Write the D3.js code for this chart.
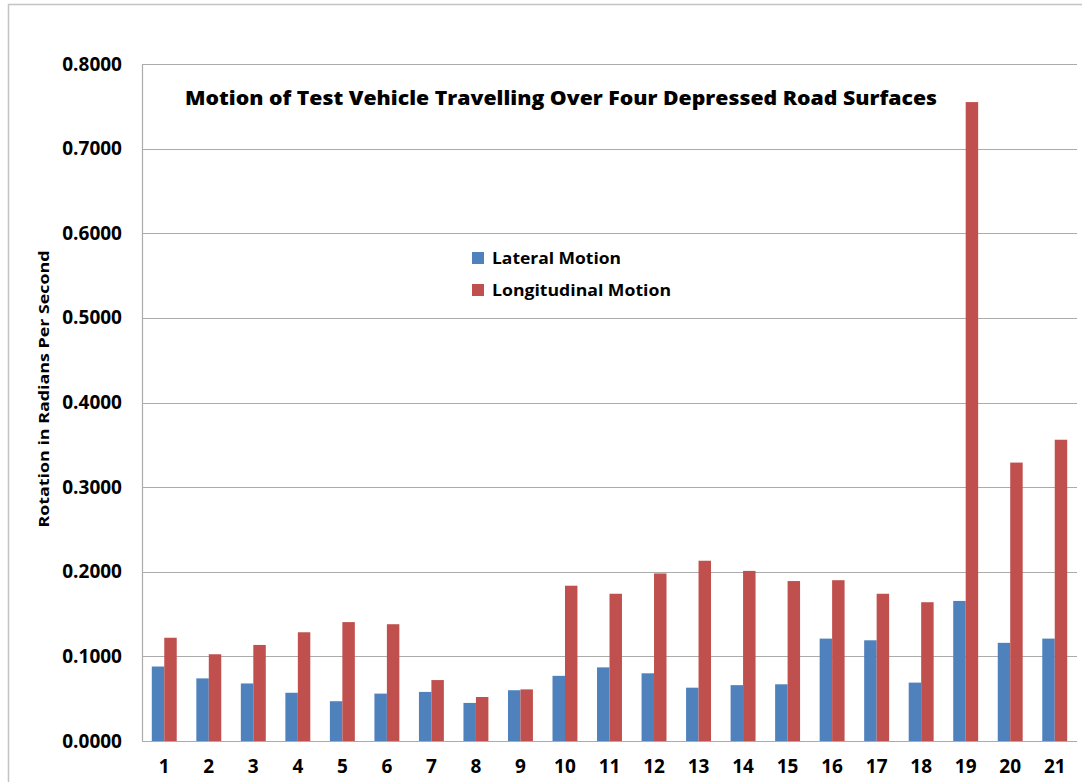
<!DOCTYPE html>
<html>
<head>
<meta charset="utf-8">
<script src="https://cdn.jsdelivr.net/npm/d3@7"></script>
<style>
  html, body { margin: 0; padding: 0; background: #fff; }
  svg { display: block; }
</style>
</head>
<body>
<svg id="chart" width="1082" height="782"></svg>
<script>
const categories = ["1","2","3","4","5","6","7","8","9","10","11","12","13","14","15","16","17","18","19","20","21"];
const seriesNames = ["Lateral Motion", "Longitudinal Motion"];
const lateral = [0.088, 0.074, 0.068, 0.057, 0.047, 0.056, 0.058, 0.045, 0.060, 0.077, 0.087, 0.080, 0.063, 0.066, 0.067, 0.121, 0.119, 0.069, 0.1655, 0.116, 0.121];
const longitudinal = [0.122, 0.1025, 0.1135, 0.1285, 0.1405, 0.138, 0.072, 0.052, 0.061, 0.1835, 0.174, 0.198, 0.213, 0.201, 0.189, 0.190, 0.174, 0.164, 0.755, 0.329, 0.356];
const yTicks = [0, 0.1, 0.2, 0.3, 0.4, 0.5, 0.6, 0.7, 0.8];
const colors = ["#4F81BD", "#C0504D"];
const titleText = "Motion of Test Vehicle Travelling Over Four Depressed Road Surfaces";
const yLabel = "Rotation in Radians Per Second";

const svg = d3.select("#chart");
const font = "'Open Sans', 'DejaVu Sans', sans-serif";

// outer chart border
svg.append("rect")
  .attr("x", 8.5).attr("y", 4.5)
  .attr("width", 1100).attr("height", 800)
  .attr("fill", "#fff").attr("stroke", "#c4c4c4").attr("stroke-width", 1.5);

const plot = { left: 142, right: 1077, top: 64, bottom: 741 };

const x0 = d3.scaleBand().domain(categories)
  .range([plot.left, plot.right]).paddingInner(0.44).paddingOuter(0.22);
const x1 = d3.scaleBand().domain(seriesNames).range([0, x0.bandwidth()]);
const y = d3.scaleLinear().domain([0, 0.8]).range([plot.bottom, plot.top]);

// gridlines
svg.append("g").selectAll("line").data(yTicks.filter(d => d > 0)).join("line")
  .attr("x1", plot.left).attr("x2", plot.right)
  .attr("y1", d => Math.round(y(d)) + 0.5).attr("y2", d => Math.round(y(d)) + 0.5)
  .attr("stroke", "#ababab").attr("stroke-width", 1);

// bars
const rows = categories.map((c, i) => ({ cat: c, values: [lateral[i], longitudinal[i]] }));
svg.append("g").selectAll("g").data(rows).join("g")
  .attr("transform", d => `translate(${x0(d.cat)},0)`)
  .selectAll("rect").data(d => d.values.map((v, j) => ({ name: seriesNames[j], v, j })))
  .join("rect")
  .attr("x", d => x1(d.name))
  .attr("width", x1.bandwidth())
  .attr("y", d => y(d.v))
  .attr("height", d => y(0) - y(d.v))
  .attr("fill", d => colors[d.j]);

// y axis
const yAxis = d3.axisLeft(y).tickValues(yTicks).tickFormat(d3.format(".4f")).tickSize(0).tickPadding(20);
const yg = svg.append("g").attr("transform", `translate(${plot.left},0)`).call(yAxis);
yg.select(".domain").attr("stroke", "#ababab").attr("stroke-width", 1.2);
yg.selectAll("text").attr("font-family", font).attr("font-weight", 700)
  .attr("font-size", 19).attr("fill", "#000");

// x axis
const xAxis = d3.axisBottom(x0).tickSize(0).tickPadding(19);
const xg = svg.append("g").attr("transform", `translate(0,${plot.bottom})`).call(xAxis);
xg.select(".domain").attr("d", `M${plot.left},0.5H${plot.right}`).attr("stroke", "#ababab").attr("stroke-width", 1.2);
xg.selectAll("text").attr("font-family", font).attr("font-weight", 700)
  .attr("font-size", 19).attr("fill", "#000");

// title
svg.append("text")
  .attr("x", 561).attr("y", 105)
  .attr("text-anchor", "middle")
  .attr("font-family", font).attr("font-weight", 800).attr("font-size", 19)
  .attr("textLength", 752).attr("lengthAdjust", "spacingAndGlyphs")
  .text(titleText);

// y label
svg.append("text")
  .attr("transform", "translate(49,389) rotate(-90)")
  .attr("text-anchor", "middle")
  .attr("font-family", font).attr("font-weight", 700).attr("font-size", 15)
  .attr("textLength", 277).attr("lengthAdjust", "spacingAndGlyphs")
  .text(yLabel);

// legend
const legend = svg.append("g").attr("transform", "translate(472,252)");
const legendWidths = [129, 179];
seriesNames.forEach((name, i) => {
  const g = legend.append("g").attr("transform", `translate(0,${i * 32})`);
  g.append("rect").attr("x", 0).attr("y", 0).attr("width", 12).attr("height", 12).attr("fill", colors[i]);
  g.append("text").attr("x", 20).attr("y", 11.5)
    .attr("font-family", font).attr("font-weight", 700).attr("font-size", 16)
    .attr("textLength", legendWidths[i]).attr("lengthAdjust", "spacingAndGlyphs")
    .text(name);
});
</script>
</body>
</html>
